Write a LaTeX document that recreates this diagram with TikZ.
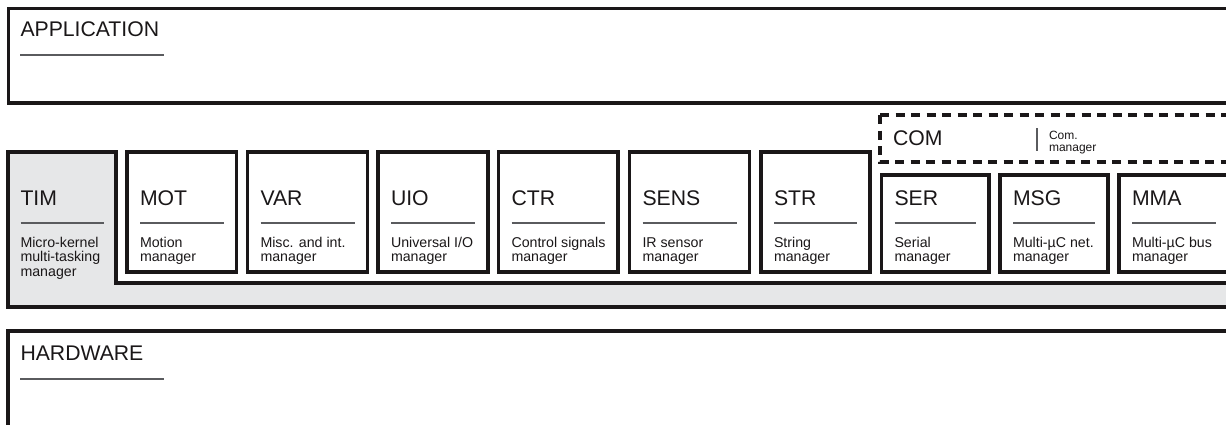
\documentclass[tikz,border=0pt]{standalone}
\usepackage{fontspec}
\setmainfont{Liberation Sans}
\definecolor{ink}{HTML}{1A1718}
\definecolor{rulegray}{HTML}{5A5B5E}
\definecolor{timgray}{HTML}{E6E7E8}
\newcommand\toplines[1]{\begin{tabular}[t]{@{}l@{}}#1\end{tabular}}
\tikzset{
  frame/.style={draw=ink, line width=3.2pt},
  modbox/.style={frame, fill=white, inner sep=0pt, outer sep=0pt},
  bigbox/.style={frame, fill=white, inner sep=0pt, outer sep=0pt},
  dashbox/.style={draw=ink, line width=3.2pt, dash pattern=on 9pt off 6.5pt},
  uline/.style={draw=rulegray, line width=1.2pt},
  title/.style={inner sep=0pt, outer sep=0pt, font=\fontsize{21.2}{24}\selectfont, text=ink},
  desc/.style={inner sep=0pt, outer sep=0pt, font=\fontsize{14.2}{14.4}\selectfont, text=ink},
  smalldesc/.style={inner sep=0pt, outer sep=0pt, font=\fontsize{12}{12.5}\selectfont, text=ink},
}
% name, x1, x2, ytop, title, description
\newcommand\mymodule[6]{%
  \node[modbox, anchor=north west, minimum width={#3-#2}, minimum height={272-#4}] (#1) at (#2,#4) {};
  \node[title, anchor=base west] (#1-t) at ({#2+13},205) {#5};
  \draw[uline] ({#2+13},223) -- ({#3-13},223);
  \node[desc, anchor=base west] (#1-d) at ({#2+13},247) {\toplines{#6}};
}
\begin{document}
\begin{tikzpicture}[x=1pt,y=-1pt]
\useasboundingbox (0,0) rectangle (1226,424);
\clip (0,0) rectangle (1226,424);
\fill[white] (0,0) rectangle (1226,424);

% APPLICATION
\node[bigbox, anchor=north west, minimum width=1240, minimum height=94.5] (app) at (8.5,8.5) {};
\node[title, anchor=base west] (app-t) at (20.5,36) {APPLICATION};
\draw[uline] (20,55) -- (164,55);

% TIM (L-shaped grey frame)
\draw[frame, fill=timgray] (8,152) -- (116,152) -- (116,283) -- (1240,283) -- (1240,307) -- (8,307) -- cycle;
\node[title, anchor=base west] (tim-t) at (20.5,205) {TIM};
\draw[uline] (20.5,223) -- (104,223);
\node[desc, anchor=base west] (tim-d) at (20.5,247) {\toplines{Micro-kernel\\multi-tasking\\manager}};

% modules
\mymodule{mot}{127}{236.5}{152}{MOT}{Motion\\manager}
\mymodule{var}{247.5}{367.5}{152}{VAR}{Misc. and int.\\manager}
\mymodule{uio}{378}{488}{152}{UIO}{Universal I/O\\manager}
\mymodule{ctr}{498.5}{618}{152}{CTR}{Control signals\\manager}
\mymodule{sens}{629.5}{749.5}{152}{SENS}{IR sensor\\manager}
\mymodule{str}{761}{870}{152}{STR}{String\\manager}
\mymodule{ser}{881.5}{989}{175}{SER}{Serial\\manager}
\mymodule{msg}{1000}{1108}{175}{MSG}{Multi-µC net.\\manager}
\mymodule{mma}{1119}{1229}{175}{MMA}{Multi-µC bus\\manager}

% COM (dashed)
\draw[dashbox] (880,115) -- (1240,115);
\draw[dashbox] (880,115) -- (880,162) -- (1240,162);
\node[title, anchor=base west] (com-t) at (893,145) {COM};
\draw[uline] (1037,128) -- (1037,151);
\node[smalldesc, anchor=base west] (com-d) at (1049,139) {\toplines{Com.\\manager}};

% HARDWARE
\node[bigbox, anchor=north west, minimum width=1240, minimum height=120] (hw) at (8,331) {};
\node[title, anchor=base west] (hw-t) at (20.5,360) {HARDWARE};
\draw[uline] (20,379) -- (164,379);
\end{tikzpicture}
\end{document}
